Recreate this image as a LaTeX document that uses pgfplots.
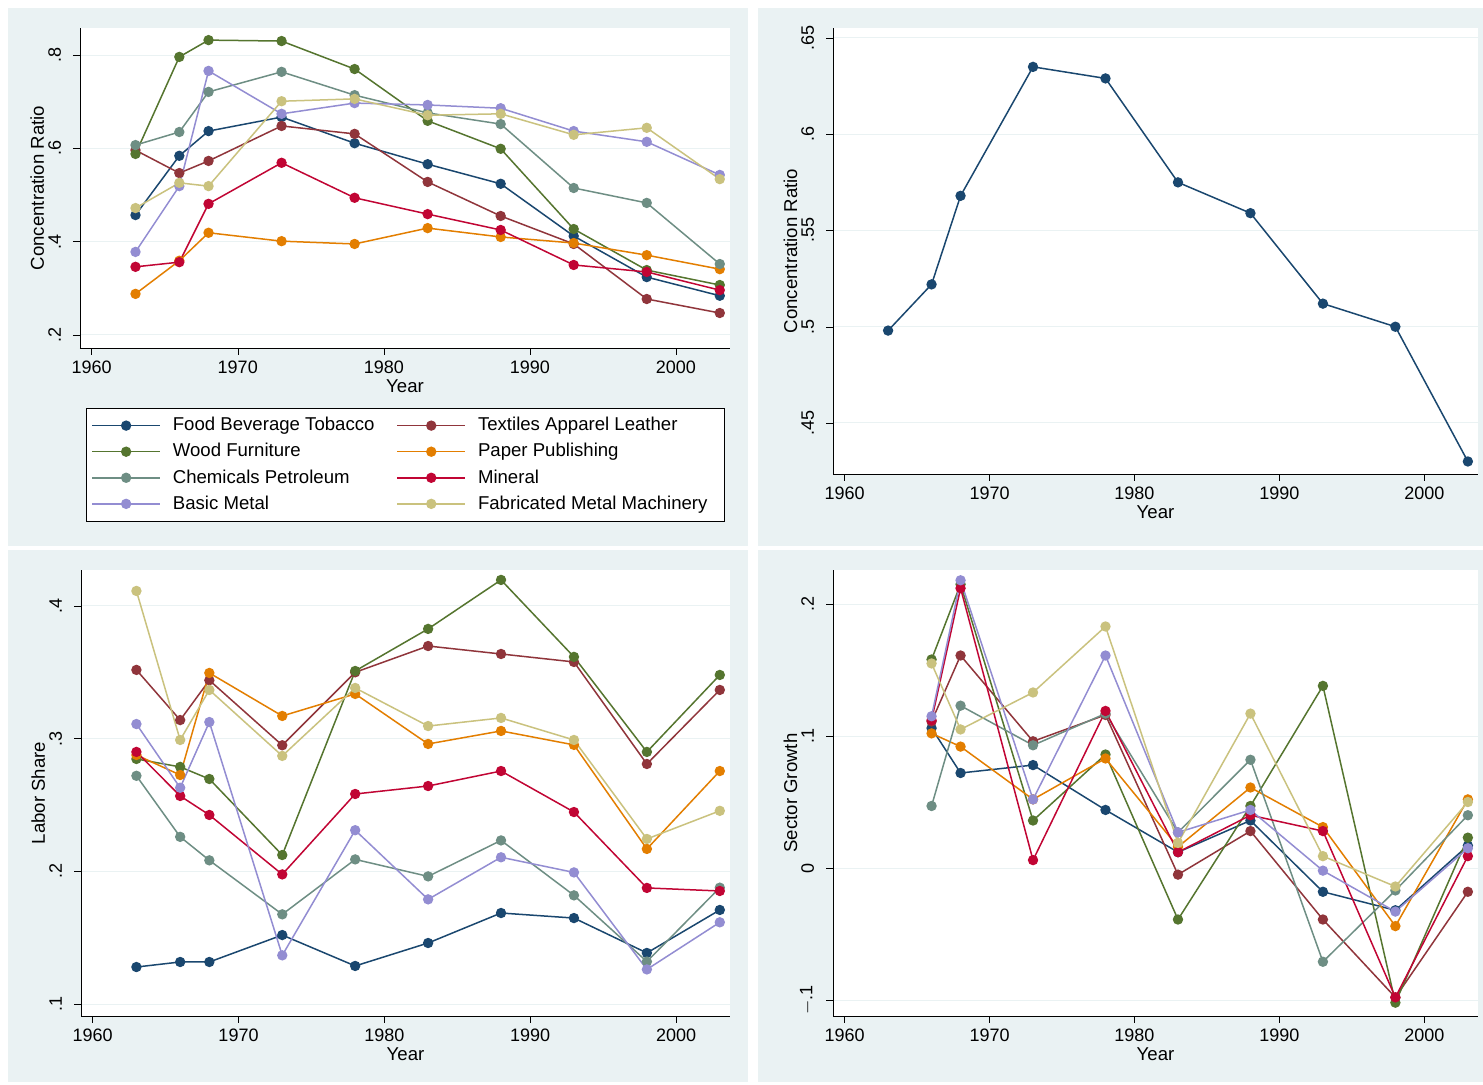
\documentclass[border=0pt]{standalone}
\usepackage{fontspec}
\setmainfont{Liberation Sans}
\usepackage{pgfplots}
\pgfplotsset{compat=1.18}
\definecolor{sNavy}{HTML}{1A476F}
\definecolor{sMaroon}{HTML}{90353B}
\definecolor{sGreen}{HTML}{55752F}
\definecolor{sOrange}{HTML}{E37E00}
\definecolor{sTeal}{HTML}{6E8E84}
\definecolor{sCran}{HTML}{C10534}
\definecolor{sLav}{HTML}{938DD2}
\definecolor{sKhaki}{HTML}{CAC27E}
\definecolor{sBg}{HTML}{EAF2F3}
\pgfplotsset{
  st/.style={scale only axis, axis x line*=bottom, axis y line*=left, axis line style={-},
    tick align=outside, major tick length=3.5pt, tick style={black},
    xmin=1959.2, xmax=2003.7,
    xtick={1960,1970,1980,1990,2000}, xticklabels={1960,1970,1980,1990,2000},
    ticklabel style={font=\fontsize{9}{10}\selectfont},
    label style={font=\fontsize{9.3}{10}\selectfont},
    yticklabel style={rotate=90, anchor=south}, yticklabel shift=2.5pt,
    xticklabel style={yshift=0.5pt},
    ymajorgrids, grid style={sBg, line width=0.5pt},
    xlabel={Year}, xlabel style={yshift=4pt},
    ylabel style={at={(axis description cs:-0.066,0.5)}, anchor=center},
    axis background/.style={fill=white},
    every axis plot/.append style={line width=0.75pt, mark=*, mark size=2.2pt},
  },
  cNavy/.style={color=sNavy, mark options={fill=sNavy}},
  cMaroon/.style={color=sMaroon, mark options={fill=sMaroon}},
  cGreen/.style={color=sGreen, mark options={fill=sGreen}},
  cOrange/.style={color=sOrange, mark options={fill=sOrange}},
  cTeal/.style={color=sTeal, mark options={fill=sTeal}},
  cCran/.style={color=sCran, mark options={fill=sCran}},
  cLav/.style={color=sLav, mark options={fill=sLav}},
  cKhaki/.style={color=sKhaki, mark options={fill=sKhaki}},
}
\begin{document}
\begin{tikzpicture}
\fill[white] (0pt,0pt) rectangle (741.5pt,542.5pt);
\fill[sBg] (4pt,269.5pt) rectangle (374pt,538.5pt);
\fill[sBg] (379pt,269.5pt) rectangle (741.5pt,538.5pt);
\fill[sBg] (4pt,1.5pt) rectangle (374pt,267.5pt);
\fill[sBg] (379pt,1.5pt) rectangle (741.5pt,267.5pt);
% TL
\begin{axis}[st, at={(40pt,368.5pt)}, anchor=south west, width=325pt, height=160pt,
  ymin=0.172, ymax=0.858,
  ytick={0.2,0.4,0.6,0.8}, yticklabels={.2,.4,.6,.8},
  ylabel={Concentration Ratio},
  legend columns=2,
  legend image code/.code={\draw[mark repeat=2,mark phase=2,#1] plot coordinates {(0pt,0pt) (17pt,0pt) (34pt,0pt)};},
  legend style={at={(0.0092,-0.1875)}, anchor=north west, draw=black, fill=white,
    font=\fontsize{9.3}{11}\selectfont, cells={anchor=west}, row sep=0.8pt,
    nodes={inner xsep=6pt},
    /tikz/every even column/.append style={column sep=5pt}, inner sep=2.5pt},
]
\addplot[cNavy] coordinates {(1963,.457)(1966,.584)(1968,.637)(1973,.667)(1978,.611)(1983,.566)(1988,.524)(1993,.412)(1998,.324)(2003,.284)};
\addlegendentry{Food Beverage Tobacco}
\addplot[cMaroon] coordinates {(1963,.596)(1966,.547)(1968,.573)(1973,.648)(1978,.631)(1983,.528)(1988,.455)(1993,.395)(1998,.277)(2003,.247)};
\addlegendentry{Textiles Apparel Leather}
\addplot[cGreen] coordinates {(1963,.588)(1966,.796)(1968,.832)(1973,.830)(1978,.770)(1983,.659)(1988,.599)(1993,.427)(1998,.339)(2003,.307)};
\addlegendentry{Wood Furniture}
\addplot[cOrange] coordinates {(1963,.288)(1966,.359)(1968,.419)(1973,.401)(1978,.395)(1983,.429)(1988,.410)(1993,.397)(1998,.371)(2003,.341)};
\addlegendentry{Paper Publishing}
\addplot[cTeal] coordinates {(1963,.607)(1966,.635)(1968,.721)(1973,.764)(1978,.714)(1983,.676)(1988,.652)(1993,.515)(1998,.483)(2003,.352)};
\addlegendentry{Chemicals Petroleum}
\addplot[cCran] coordinates {(1963,.346)(1966,.356)(1968,.481)(1973,.569)(1978,.494)(1983,.459)(1988,.425)(1993,.350)(1998,.335)(2003,.296)};
\addlegendentry{Mineral}
\addplot[cLav] coordinates {(1963,.378)(1966,.519)(1968,.766)(1973,.674)(1978,.697)(1983,.693)(1988,.686)(1993,.637)(1998,.614)(2003,.543)};
\addlegendentry{Basic Metal}
\addplot[cKhaki] coordinates {(1963,.472)(1966,.526)(1968,.519)(1973,.701)(1978,.706)(1983,.671)(1988,.674)(1993,.629)(1998,.644)(2003,.534)};
\addlegendentry{Fabricated Metal Machinery}
\end{axis}
% TR
\begin{axis}[st, at={(416.5pt,305.5pt)}, anchor=south west, width=322.5pt, height=223pt,
  ymin=0.4235, ymax=0.6552,
  ytick={0.45,0.5,0.55,0.6,0.65}, yticklabels={.45,.5,.55,.6,.65},
  ylabel={Concentration Ratio},
]
\addplot[cNavy] coordinates {(1963,.498)(1966,.522)(1968,.568)(1973,.635)(1978,.629)(1983,.575)(1988,.559)(1993,.512)(1998,.500)(2003,.430)};
\end{axis}
% BL
\begin{axis}[st, at={(40.5pt,34.5pt)}, anchor=south west, width=324.5pt, height=223pt,
  ymin=0.091, ymax=0.4271,
  ytick={0.1,0.2,0.3,0.4}, yticklabels={.1,.2,.3,.4},
  ylabel={Labor Share},
]
\addplot[cNavy] coordinates {(1963,.1279)(1966,.1317)(1968,.1317)(1973,.152)(1978,.1287)(1983,.146)(1988,.1686)(1993,.1648)(1998,.1385)(2003,.1709)};
\addplot[cMaroon] coordinates {(1963,.3518)(1966,.314)(1968,.344)(1973,.295)(1978,.350)(1983,.3698)(1988,.3638)(1993,.3578)(1998,.2809)(2003,.3367)};
\addplot[cGreen] coordinates {(1963,.2847)(1966,.2787)(1968,.2696)(1973,.2123)(1978,.351)(1983,.3827)(1988,.4196)(1993,.3616)(1998,.290)(2003,.348)};
\addplot[cOrange] coordinates {(1963,.2877)(1966,.2726)(1968,.3495)(1973,.3171)(1978,.3337)(1983,.296)(1988,.3058)(1993,.2953)(1998,.2169)(2003,.2756)};
\addplot[cTeal] coordinates {(1963,.272)(1966,.226)(1968,.2083)(1973,.1676)(1978,.209)(1983,.1962)(1988,.2233)(1993,.1819)(1998,.132)(2003,.1877)};
\addplot[cCran] coordinates {(1963,.290)(1966,.2568)(1968,.2425)(1973,.1977)(1978,.2583)(1983,.2643)(1988,.2756)(1993,.2447)(1998,.1875)(2003,.1852)};
\addplot[cLav] coordinates {(1963,.311)(1966,.263)(1968,.3125)(1973,.1367)(1978,.231)(1983,.1789)(1988,.2106)(1993,.1992)(1998,.1261)(2003,.1616)};
\addplot[cKhaki] coordinates {(1963,.4113)(1966,.299)(1968,.3367)(1973,.287)(1978,.3382)(1983,.3095)(1988,.3156)(1993,.299)(1998,.2244)(2003,.2456)};
\end{axis}
% BR
\begin{axis}[st, at={(416.5pt,34.5pt)}, anchor=south west, width=322.5pt, height=223pt,
  ymin=-0.1121, ymax=0.2258,
  ytick={-0.1,0,0.1,0.2}, yticklabels={$-$.1,0,.1,.2},
  ylabel={Sector Growth},
]
\addplot[cNavy] coordinates {(1966,.106)(1968,.072)(1973,.078)(1978,.044)(1983,.012)(1988,.036)(1993,-.018)(1998,-.032)(2003,.017)};
\addplot[cMaroon] coordinates {(1966,.111)(1968,.161)(1973,.096)(1978,.116)(1983,-.005)(1988,.028)(1993,-.039)(1998,-.098)(2003,-.018)};
\addplot[cGreen] coordinates {(1966,.158)(1968,.215)(1973,.036)(1978,.086)(1983,-.039)(1988,.047)(1993,.138)(1998,-.102)(2003,.023)};
\addplot[cOrange] coordinates {(1966,.102)(1968,.092)(1973,.052)(1978,.083)(1983,.016)(1988,.061)(1993,.031)(1998,-.044)(2003,.052)};
\addplot[cTeal] coordinates {(1966,.047)(1968,.123)(1973,.093)(1978,.117)(1983,.027)(1988,.082)(1993,-.071)(1998,-.017)(2003,.040)};
\addplot[cCran] coordinates {(1966,.112)(1968,.212)(1973,.006)(1978,.119)(1983,.012)(1988,.040)(1993,.028)(1998,-.098)(2003,.009)};
\addplot[cLav] coordinates {(1966,.115)(1968,.218)(1973,.052)(1978,.161)(1983,.027)(1988,.044)(1993,-.002)(1998,-.033)(2003,.015)};
\addplot[cKhaki] coordinates {(1966,.155)(1968,.105)(1973,.133)(1978,.183)(1983,.019)(1988,.117)(1993,.009)(1998,-.014)(2003,.050)};
\end{axis}
\end{tikzpicture}
\end{document}
